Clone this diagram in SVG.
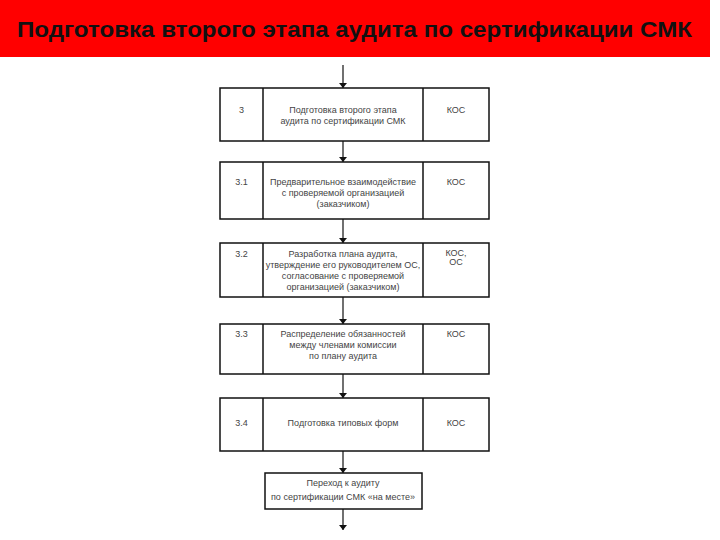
<svg xmlns="http://www.w3.org/2000/svg" width="720" height="540" viewBox="0 0 720 540">
<defs>
<marker id="ah" viewBox="0 0 10 10" refX="10" refY="5" markerWidth="5" markerHeight="8" markerUnits="userSpaceOnUse" orient="auto" preserveAspectRatio="none">
<path d="M0,0 L10,5 L0,10 Z" fill="#111"/>
</marker>
</defs>
<style>
.box{fill:#fff;stroke:#111;stroke-width:1.5}
.div{stroke:#111;stroke-width:1.5}
.t{font-family:"Liberation Sans",Arial,sans-serif;font-size:9px;fill:#444;text-anchor:middle}
.c{stroke:#111;stroke-width:1.2;fill:none;marker-end:url(#ah)}
.title{font-family:"Liberation Sans",Arial,sans-serif;font-size:22px;font-weight:bold;fill:#111}
</style>
<rect x="0" y="0" width="720" height="540" fill="#fff"/>
<rect x="0" y="0" width="710" height="57" fill="#ff0000"/>
<text class="title" x="17" y="37" textLength="675" lengthAdjust="spacingAndGlyphs">Подготовка второго этапа аудита по сертификации СМК</text>

<g id="connectors">
<line class="c" x1="343" y1="65" x2="343" y2="88"/>
<line class="c" x1="343" y1="141" x2="343" y2="162"/>
<line class="c" x1="343" y1="219" x2="343" y2="243"/>
<line class="c" x1="343" y1="297" x2="343" y2="324"/>
<line class="c" x1="343" y1="374" x2="343" y2="398"/>
<line class="c" x1="343" y1="451" x2="343" y2="473"/>
<line class="c" x1="343" y1="509" x2="343" y2="530"/>
</g>

<g id="n3">
<rect class="box" x="220" y="88" width="269" height="53"/>
<line class="div" x1="263" y1="88" x2="263" y2="141"/>
<line class="div" x1="423" y1="88" x2="423" y2="141"/>
<text class="t" x="241.5" y="113">3</text>
<text class="t" x="343" y="113">Подготовка второго этапа</text>
<text class="t" x="343" y="124">аудита по сертификации СМК</text>
<text class="t" x="456" y="113">КОС</text>
</g>

<g id="n31">
<rect class="box" x="220" y="162" width="269" height="57"/>
<line class="div" x1="263" y1="162" x2="263" y2="219"/>
<line class="div" x1="423" y1="162" x2="423" y2="219"/>
<text class="t" x="241.5" y="185">3.1</text>
<text class="t" x="343" y="185">Предварительное взаимодействие</text>
<text class="t" x="343" y="196">с проверяемой организацией</text>
<text class="t" x="343" y="207">(заказчиком)</text>
<text class="t" x="456" y="185">КОС</text>
</g>

<g id="n32">
<rect class="box" x="220" y="243" width="269" height="54"/>
<line class="div" x1="263" y1="243" x2="263" y2="297"/>
<line class="div" x1="423" y1="243" x2="423" y2="297"/>
<text class="t" x="241.5" y="257">3.2</text>
<text class="t" x="343" y="257">Разработка плана аудита,</text>
<text class="t" x="343" y="268">утверждение его руководителем ОС,</text>
<text class="t" x="343" y="279">согласование с проверяемой</text>
<text class="t" x="343" y="290">организацией (заказчиком)</text>
<text class="t" x="456" y="256">КОС,</text>
<text class="t" x="456" y="265">ОС</text>
</g>

<g id="n33">
<rect class="box" x="220" y="324" width="269" height="50"/>
<line class="div" x1="263" y1="324" x2="263" y2="374"/>
<line class="div" x1="423" y1="324" x2="423" y2="374"/>
<text class="t" x="241.5" y="337">3.3</text>
<text class="t" x="343" y="337">Распределение обязанностей</text>
<text class="t" x="343" y="348">между членами комиссии</text>
<text class="t" x="343" y="359">по плану аудита</text>
<text class="t" x="456" y="337">КОС</text>
</g>

<g id="n34">
<rect class="box" x="220" y="398" width="269" height="53"/>
<line class="div" x1="263" y1="398" x2="263" y2="451"/>
<line class="div" x1="423" y1="398" x2="423" y2="451"/>
<text class="t" x="241.5" y="426">3.4</text>
<text class="t" x="343" y="426">Подготовка типовых форм</text>
<text class="t" x="456" y="426">КОС</text>
</g>

<g id="nend">
<rect class="box" x="265" y="473" width="157" height="36"/>
<text class="t" x="343" y="486">Переход к аудиту</text>
<text class="t" x="343" y="500">по сертификации СМК «на месте»</text>
</g>
</svg>
